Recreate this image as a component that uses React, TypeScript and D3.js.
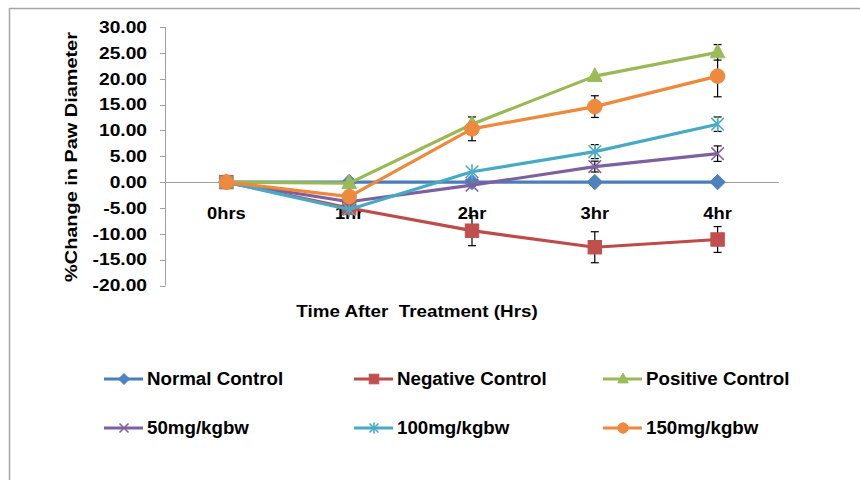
import React from "react";
import * as d3 from "d3";

const categories = ["0hrs", "1hr", "2hr", "3hr", "4hr"];
const yTicks = [30, 25, 20, 15, 10, 5, 0, -5, -10, -15, -20];

const seriesNames = ["Normal Control", "Negative Control", "Positive Control", "50mg/kgbw", "100mg/kgbw", "150mg/kgbw"];
const normalControl = [0, 0, 0, 0, 0];
const negativeControl = [0, -5.0, -9.4, -12.6, -11.1];
const positiveControl = [0, -0.2, 11.2, 20.5, 25.1];
const mg50 = [0, -3.8, -0.6, 3.0, 5.5];
const mg100 = [0, -5.3, 2.0, 5.9, 11.2];
const mg150 = [0, -2.8, 10.3, 14.6, 20.5];

const normalErr = [0, 0, 0, 0, 0];
const negativeErr = [0, 0, 2.9, 3.0, 2.5];
const positiveErr = [0, 0, 0, 0, 1.5];
const mg50Err = [0, 0, 0, 1.05, 1.5];
const mg100Err = [0, 0, 0, 1.35, 1.4];
const mg150Err = [0, 0, 2.3, 2.1, 4.0];

const lineColors = ["#4A7EBB", "#BE4B48", "#98B954", "#7D60A0", "#46AAC5", "#F0883A"];
const markerColors = ["#4F81BD", "#C0504D", "#9BBB59", "#8064A2", "#4BACC6", "#EE8A3E"];
const markerTypes = ["diamond", "square", "triangle", "x", "star", "circle"];

const seriesValues = [normalControl, negativeControl, positiveControl, mg50, mg100, mg150];
const seriesErrs = [normalErr, negativeErr, positiveErr, mg50Err, mg100Err, mg150Err];

const FONT = "'Liberation Sans', Arial, sans-serif";

function Marker({ type, x, y, color, s }: { type: string; x: number; y: number; color: string; s: number }) {
  if (type === "diamond") {
    const r = s * 0.55;
    return <path d={`M${x},${y - r}L${x + r},${y}L${x},${y + r}L${x - r},${y}Z`} fill={color} stroke={color} strokeWidth={1} />;
  }
  if (type === "square") {
    const r = s * 0.48;
    return <rect x={x - r} y={y - r} width={2 * r} height={2 * r} fill={color} stroke={color} strokeWidth={1} />;
  }
  if (type === "triangle") {
    const r = s * 0.52;
    return <path d={`M${x},${y - r * 1.15}L${x + r},${y + r * 0.75}L${x - r},${y + r * 0.75}Z`} fill={color} stroke={color} strokeWidth={1} />;
  }
  if (type === "circle") {
    return <circle cx={x} cy={y} r={s * 0.52} fill={color} stroke={color} strokeWidth={1} />;
  }
  const r = s * 0.45;
  const xs = (
    <path d={`M${x - r},${y - r}L${x + r},${y + r}M${x - r},${y + r}L${x + r},${y - r}`} stroke={color} strokeWidth={1.6} fill="none" />
  );
  if (type === "x") return xs;
  return (
    <g>
      {xs}
      <path d={`M${x},${y - r * 1.2}L${x},${y + r * 1.2}`} stroke={color} strokeWidth={1.6} />
    </g>
  );
}

function T({
  x,
  y,
  sx,
  size,
  anchor,
  rotate,
  children,
}: {
  x: number;
  y: number;
  sx: number;
  size: number;
  anchor: string;
  rotate?: number;
  children: React.ReactNode;
}) {
  return (
    <g transform={`translate(${x},${y})${rotate ? ` rotate(${rotate})` : ""} scale(${sx},1)`}>
      <text x={0} y={0} textAnchor={anchor} fontSize={size} fontWeight="bold" fill="#000" style={{ whiteSpace: "pre" }}>
        {children}
      </text>
    </g>
  );
}

export default function App() {
  const W = 860;
  const H = 480;
  const x = d3.scaleBand<string>().domain(categories).range([165, 779]);
  const y = d3.scaleLinear().domain([-20, 30]).range([285.5, 27]);
  const cx = (c: string) => (x(c) as number) + x.bandwidth() / 2;
  const line = d3
    .line<number>()
    .x((_, i) => cx(categories[i]))
    .y((v) => y(v));

  const legendCols = [104, 354, 603];
  const legendRows = [379, 428];

  return (
    <svg width={W} height={H} style={{ position: "absolute", left: 0, top: 0, background: "#fff" }} fontFamily={FONT}>
      <rect x={0} y={0} width={W} height={H} fill="#fff" />
      <rect x={9.5} y={8.5} width={900} height={520} fill="none" stroke="#a6a6a6" strokeWidth={1.5} />

      {/* y axis */}
      <line x1={165.5} x2={165.5} y1={y(30)} y2={y(-20)} stroke="#a0a0a0" strokeWidth={1} />
      {yTicks.map((t) => (
        <g key={t}>
          <line x1={160} x2={165.5} y1={Math.round(y(t)) + 0.5} y2={Math.round(y(t)) + 0.5} stroke="#a0a0a0" />
          <T x={147} y={y(t) + 5.8} sx={1.2} size={16} anchor="end">
            {t.toFixed(2)}
          </T>
        </g>
      ))}
      {/* zero line */}
      <line x1={165} x2={779} y1={Math.round(y(0)) + 0.5} y2={Math.round(y(0)) + 0.5} stroke="#a0a0a0" strokeWidth={1.2} />

      {/* category labels */}
      {categories.map((c) => (
        <T key={c} x={cx(c)} y={219} sx={1.08} size={17} anchor="middle">
          {c}
        </T>
      ))}

      <T x={77} y={157} rotate={-90} sx={1.17} size={17} anchor="middle">
        %Change in Paw Diameter
      </T>
      <T x={417} y={317} sx={1.14} size={16.5} anchor="middle">
        {"Time After  Treatment (Hrs)"}
      </T>

      {/* error bars */}
      {seriesValues.map((vals, si) =>
        vals.map((v, i) => {
          const e = seriesErrs[si][i];
          if (!e) return null;
          const px = cx(categories[i]);
          return (
            <g key={`e${si}-${i}`} stroke="#000" strokeWidth={1.2}>
              <line x1={px} x2={px} y1={y(v + e)} y2={y(v - e)} />
              <line x1={px - 4} x2={px + 4} y1={y(v + e)} y2={y(v + e)} />
              <line x1={px - 4} x2={px + 4} y1={y(v - e)} y2={y(v - e)} />
            </g>
          );
        })
      )}

      {/* series */}
      {seriesValues.map((vals, si) => (
        <g key={`s${si}`}>
          <path d={line(vals) as string} fill="none" stroke={lineColors[si]} strokeWidth={3.2} strokeLinejoin="round" />
          {vals.map((v, i) => (
            <Marker key={i} type={markerTypes[si]} x={cx(categories[i])} y={y(v)} color={markerColors[si]} s={14} />
          ))}
        </g>
      ))}

      {/* legend */}
      {seriesNames.map((name, i) => {
        const lx = legendCols[i % 3];
        const ly = legendRows[Math.floor(i / 3)];
        return (
          <g key={name}>
            <line x1={lx} x2={lx + 39} y1={ly} y2={ly} stroke={lineColors[i]} strokeWidth={3} />
            <Marker type={markerTypes[i]} x={lx + 20} y={ly} color={markerColors[i]} s={10} />
            <T x={lx + 43} y={ly + 6.3} sx={1.07} size={17.5} anchor="start">
              {name}
            </T>
          </g>
        );
      })}
    </svg>
  );
}
